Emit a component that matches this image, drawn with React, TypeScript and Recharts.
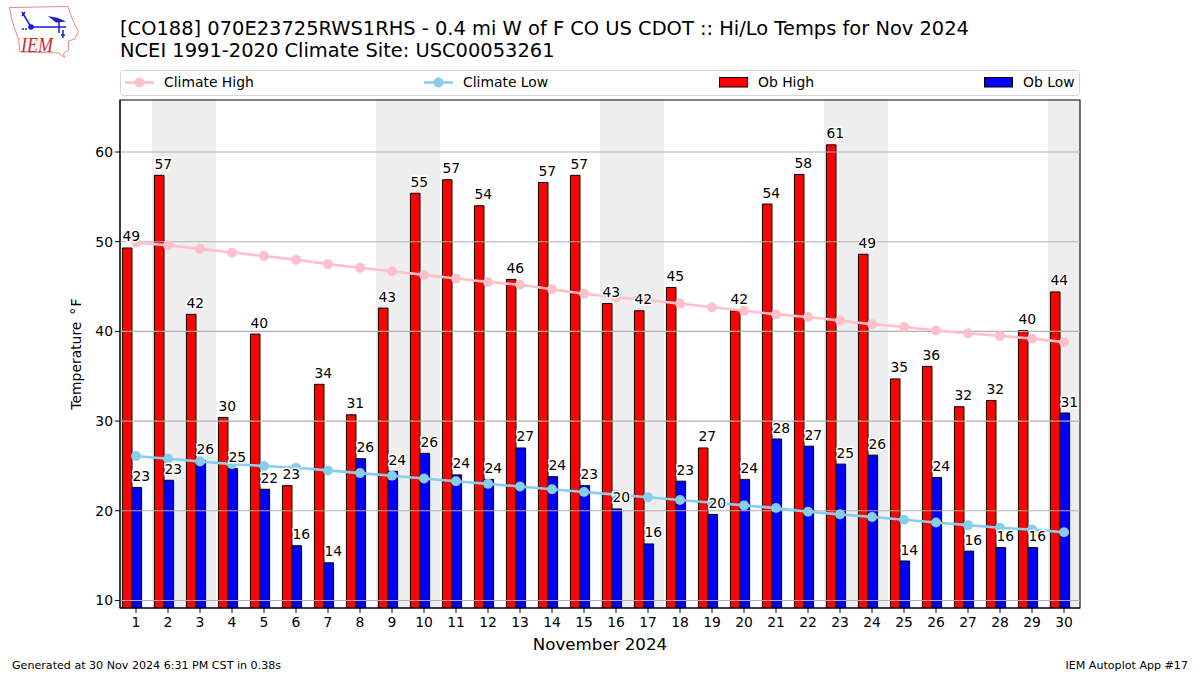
import { FC } from "react";
import {
  Bar,
  ComposedChart,
  LabelList,
  Legend,
  Line,
  Rectangle,
  ReferenceArea,
  ReferenceLine,
  XAxis,
  YAxis,
} from "recharts";

const FONT = "'DejaVu Sans', sans-serif";

const days = Array.from({ length: 30 }, (_, i) => i + 1);
const obHigh = [
  49.3, 57.4, 41.9, 30.4, 39.7, 22.8, 34.1, 30.7, 42.6, 55.4, 56.9, 54.0, 45.8, 56.6, 57.4,
  43.1, 42.3, 44.9, 27.0, 42.3, 54.2, 57.5, 60.8, 48.6, 34.7, 36.1, 31.6, 32.3, 40.1, 44.4,
];
const obLow = [
  22.6, 23.4, 25.6, 24.7, 22.4, 16.1, 14.2, 25.8, 24.4, 26.4, 24.0, 23.5, 27.0, 23.8, 22.8,
  20.2, 16.3, 23.3, 19.6, 23.5, 28.0, 27.2, 25.2, 26.2, 14.4, 23.7, 15.5, 15.9, 15.9, 30.9,
];
const climateHigh = [
  49.9, 49.6, 49.2, 48.8, 48.4, 48.0, 47.5, 47.1, 46.7, 46.3, 45.9, 45.5, 45.2, 44.7, 44.2,
  43.8, 43.5, 43.1, 42.7, 42.3, 41.9, 41.6, 41.2, 40.8, 40.5, 40.1, 39.8, 39.5, 39.2, 38.8,
];
const climateLow = [
  26.1, 25.8, 25.5, 25.2, 25.0, 24.8, 24.5, 24.2, 23.9, 23.6, 23.3, 23.0, 22.7, 22.4, 22.1,
  21.8, 21.5, 21.2, 20.9, 20.6, 20.3, 19.9, 19.6, 19.3, 19.0, 18.7, 18.4, 18.1, 17.9, 17.6,
];
const yTicks = [10, 20, 30, 40, 50, 60];
const weekends: [number, number][] = [[2, 3], [9, 10], [16, 17], [23, 24], [30, 30]];

const Y_MIN = 9.16;
const Y_MAX = 65.8;

const data = days.map((day, i) => ({
  day,
  obHigh: obHigh[i],
  obLow: obLow[i],
  climateHigh: climateHigh[i],
  climateLow: climateLow[i],
}));

// bars sit left of the tick, same as the original plot
const BAR_SHIFT = -3.6;
const ShiftedBar = (props: any) => <Rectangle {...props} x={props.x + BAR_SHIFT} />;

const valueLabel = (dx: number) => (props: any) => (
  <text
    x={props.x + dx}
    y={props.y - 6.5}
    fontSize={13.9}
    fontFamily={FONT}
    fill="#000"
    stroke="#fff"
    strokeWidth={3}
    paintOrder="stroke"
  >
    {Math.round(props.value)}
  </text>
);

const ChartLegend: FC = () => (
  <svg width={960} height={26} style={{ display: "block" }}>
    <rect x={0.5} y={0.5} width={959} height={25} rx={3} fill="#fff" stroke="#d5d5d5" />
    <line x1={5} x2={34} y1={12.5} y2={12.5} stroke="pink" strokeWidth={2.6} />
    <circle cx={19.5} cy={12.5} r={5} fill="pink" />
    <text x={44} y={17} fontSize={13.9} fontFamily={FONT}>Climate High</text>
    <line x1={304} x2={333} y1={12.5} y2={12.5} stroke="skyblue" strokeWidth={2.6} />
    <circle cx={318.5} cy={12.5} r={5} fill="skyblue" />
    <text x={343} y={17} fontSize={13.9} fontFamily={FONT}>Climate Low</text>
    <rect x={599.5} y={7.5} width={28} height={9.5} fill="red" stroke="#000" />
    <text x={638} y={17} fontSize={13.9} fontFamily={FONT}>Ob High</text>
    <rect x={864.5} y={7.5} width={28} height={9.5} fill="blue" stroke="#000" />
    <text x={903} y={17} fontSize={13.9} fontFamily={FONT}>Ob Low</text>
  </svg>
);

const Logo: FC = () => (
  <svg width={80} height={60} viewBox="0 0 80 60" style={{ position: "absolute", left: 8, top: 4 }}>
    <path
      d="M1.5 3.5 L60 2.5 L62 9 L66 19 L70.5 27 L67 35 L60.5 37 L60.5 46 L55.5 49.5 L56.5 53.5 L50.5 49 L12 48 L10.5 35 L6 23 L3.5 14 Z"
      fill="#fff"
      stroke="#e58a8a"
      strokeWidth={1}
    />
    <path
      d="M14 8 L23 23 L58 23 M14 12 L17 8 M51 18 L51 29 M55 26 L55 34 M53 31 L57 31"
      stroke="#1a1ad6"
      strokeWidth={1.5}
      fill="none"
    />
    <circle cx={23} cy={23} r={2.8} fill="#1a1ad6" />
    <circle cx={15} cy={25} r={1} fill="#1a1ad6" />
    <circle cx={18} cy={25} r={1} fill="#1a1ad6" />
    <path d="M40 12 L50 14 L58 17.5 L48 18.5 Z" fill="#1a1ad6" />
    <text
      x={13}
      y={47.5}
      fontFamily="'Liberation Serif', serif"
      fontStyle="italic"
      fontSize={22}
      fill="#d22a2a"
      textLength={32}
      lengthAdjust="spacingAndGlyphs"
    >
      IEM
    </text>
  </svg>
);

const textBox = (left: number, top: number, size: number) => ({
  position: "absolute" as const,
  left,
  top,
  fontSize: size,
  fontFamily: FONT,
  lineHeight: "22px",
  whiteSpace: "nowrap" as const,
});

export default function App() {
  return (
    <div style={{ position: "absolute", left: 0, top: 0, width: 1200, height: 675, background: "#fff" }}>
      <Logo />
      <div style={textBox(120, 18, 19.44)}>
        [CO188] 070E23725RWS1RHS - 0.4 mi W of F CO US CDOT :: Hi/Lo Temps for Nov 2024
      </div>
      <div style={textBox(120, 40, 19.44)}>NCEI 1991-2020 Climate Site: USC00053261</div>
      <ComposedChart
        width={1200}
        height={675}
        data={data}
        barSize={9.6}
        barGap={0}
        margin={{ top: 74, right: 120, bottom: 37, left: 80 }}
      >
        {weekends.map(([from, to]) => (
          <ReferenceArea key={from} x1={from} x2={to} fill="#eeeeee" fillOpacity={1} stroke="none" />
        ))}
        <XAxis
          dataKey="day"
          interval={0}
          height={30}
          tick={{ fontSize: 13.9, fontFamily: FONT, fill: "#000" }}
          tickSize={5}
          tickMargin={4}
          tickLine={{ stroke: "#000" }}
          axisLine={{ stroke: "#000" }}
          label={{
            value: "November 2024",
            position: "insideBottom",
            offset: -12,
            fontSize: 16.67,
            fontFamily: FONT,
            fill: "#000",
          }}
        />
        <YAxis
          width={40}
          domain={[Y_MIN, Y_MAX]}
          ticks={yTicks}
          allowDataOverflow
          tick={{ fontSize: 13.9, fontFamily: FONT, fill: "#000" }}
          tickSize={5}
          tickLine={{ stroke: "#000" }}
          axisLine={{ stroke: "#000" }}
          label={{
            value: "Temperature\u2002\u00b0\u200aF",
            angle: -90,
            position: "insideLeft",
            offset: -4,
            fontSize: 13.9,
            fontFamily: FONT,
            fill: "#000",
            style: { textAnchor: "middle" },
          }}
        />
        <Bar dataKey="obHigh" fill="red" stroke="#000" strokeWidth={1} shape={ShiftedBar} isAnimationActive={false} />
        <Bar dataKey="obLow" fill="blue" stroke="#000" strokeWidth={1} shape={ShiftedBar} isAnimationActive={false} />
        {yTicks.map((t) => (
          <ReferenceLine key={t} y={t} stroke="#b0b0b0" strokeWidth={1.1} />
        ))}
        <ReferenceArea y1={Y_MIN} y2={Y_MAX} fill="none" stroke="#000" strokeWidth={1.1} />
        <Line
          dataKey="climateHigh"
          stroke="pink"
          strokeWidth={2.6}
          dot={{ r: 5, fill: "pink", stroke: "pink", strokeWidth: 0 }}
          isAnimationActive={false}
        />
        <Line
          dataKey="climateLow"
          stroke="skyblue"
          strokeWidth={2.6}
          dot={{ r: 5, fill: "skyblue", stroke: "skyblue", strokeWidth: 0 }}
          isAnimationActive={false}
        />
        {/* label-only series so the numbers land on top of the climate lines */}
        <Line dataKey="obHigh" stroke="none" dot={false} isAnimationActive={false}>
          <LabelList dataKey="obHigh" content={valueLabel(-13.5)} />
        </Line>
        <Line dataKey="obLow" stroke="none" dot={false} isAnimationActive={false}>
          <LabelList dataKey="obLow" content={valueLabel(-3.5)} />
        </Line>
        <Legend
          verticalAlign="top"
          height={26}
          wrapperStyle={{ position: "absolute", left: 120, top: 70, width: 960 }}
          content={() => <ChartLegend />}
        />
      </ComposedChart>
      <div style={textBox(12, 655, 11.1)}>Generated at 30 Nov 2024 6:31 PM CST in 0.38s</div>
      <div style={{ ...textBox(0, 655, 11.1), left: "auto", right: 12 }}>IEM Autoplot App #17</div>
    </div>
  );
}
